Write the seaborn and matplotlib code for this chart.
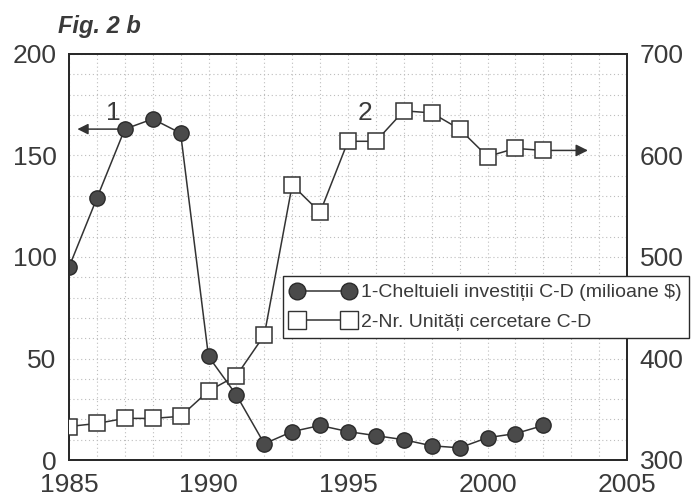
import matplotlib
matplotlib.use("Agg")
import matplotlib.pyplot as plt
from matplotlib.lines import Line2D
from matplotlib.ticker import MultipleLocator
import seaborn as sns
import pandas as pd

# Data
years = [1985, 1986, 1987, 1988, 1989, 1990, 1991, 1992, 1993,
         1994, 1995, 1996, 1997, 1998, 1999, 2000, 2001, 2002]
cheltuieli = [95, 129, 163, 168, 161, 51, 32, 8, 14,
              17, 14, 12, 10, 7, 6, 11, 13, 17]
unitati = [333, 336, 341, 341, 343, 368, 383, 423, 571,
           544, 614, 614, 644, 642, 626, 599, 607, 605]
label_1 = "1-Cheltuieli investiții C-D (milioane $)"
label_2 = "2-Nr. Unități cercetare C-D"

df = pd.DataFrame({"an": years, "cheltuieli": cheltuieli, "unitati": unitati})

sns.set_theme(style="white")
plt.rcParams["font.family"] = ["Liberation Sans", "DejaVu Sans"]

ink = "#333333"
fill = "#4a4a4a"
txt = "#3a3a3a"

fig = plt.figure(figsize=(6.91, 4.95), dpi=100)
ax = fig.add_axes([69 / 691, 1 - 460 / 495, (627 - 69) / 691, (460 - 54) / 495])
ax2 = ax.twinx()

sns.lineplot(data=df, x="an", y="cheltuieli", ax=ax, color=ink, lw=1.1,
             marker="o", markersize=11, markerfacecolor=fill,
             markeredgecolor="#2a2a2a", markeredgewidth=1.0, zorder=3)
sns.lineplot(data=df, x="an", y="unitati", ax=ax2, color=ink, lw=1.1,
             marker="s", markersize=12, markerfacecolor="white",
             markeredgecolor=ink, markeredgewidth=1.1, zorder=3)

ax.set_xlim(1985, 2005)
ax.set_ylim(0, 200)
ax2.set_ylim(300, 700)
ax.xaxis.set_major_locator(MultipleLocator(5))
ax.xaxis.set_minor_locator(MultipleLocator(1))
ax.yaxis.set_major_locator(MultipleLocator(50))
ax.yaxis.set_minor_locator(MultipleLocator(10))
ax2.yaxis.set_major_locator(MultipleLocator(100))

ax.grid(True, which="both", color="#bdbdbd", lw=0.8, ls=(0, (1, 2.5)))
ax2.grid(False)
ax.set_xlabel("")
ax.set_ylabel("")
ax2.set_ylabel("")

ax.tick_params(axis="both", which="both", length=0, labelsize=19,
               labelcolor=txt)
ax.tick_params(axis="y", pad=9)
ax.tick_params(axis="x", pad=9)
ax2.tick_params(axis="y", length=0, labelsize=19, pad=9, labelcolor=txt)

for a in (ax, ax2):
    for s in a.spines.values():
        s.set_color("#2a2a2a")
        s.set_linewidth(1.4)

# Series labels with arrows pointing to their axes
ax.annotate("", xy=(1985.3, cheltuieli[2]), xytext=(years[2], cheltuieli[2]),
            arrowprops=dict(arrowstyle="-|>", color=ink, lw=1.1,
                            mutation_scale=16, shrinkA=0, shrinkB=0),
            zorder=2)
ax2.annotate("", xy=(2003.6, unitati[-1]), xytext=(years[-1], unitati[-1]),
             arrowprops=dict(arrowstyle="-|>", color=ink, lw=1.1,
                             mutation_scale=18, shrinkA=0, shrinkB=0),
             zorder=2)
ax.text(1986.6, 171, "1", fontsize=19, color=txt, ha="center", va="center")
ax.text(1995.6, 171, "2", fontsize=19, color=txt, ha="center", va="center")

fig.text(58 / 691, 1 - 26 / 495, "Fig. 2 b", fontsize=17, fontweight="bold",
         fontstyle="italic", color=txt, va="center", ha="left")

handles = [
    Line2D([], [], color=ink, lw=1.1, marker="o", markersize=12,
           markerfacecolor=fill, markeredgecolor="#2a2a2a"),
    Line2D([], [], color=ink, lw=1.1, marker="s", markersize=13,
           markerfacecolor="white", markeredgecolor=ink),
]
leg = fig.legend(handles, [label_1, label_2], loc="upper left",
                 bbox_to_anchor=(283 / 691, 1 - 276 / 495), numpoints=2,
                 fontsize=14, handlelength=3.3, handletextpad=0.3,
                 borderpad=0.4, labelspacing=0.6, borderaxespad=0,
                 frameon=True, fancybox=False, framealpha=1,
                 edgecolor="#2a2a2a")
leg.get_frame().set_linewidth(1.0)
for t in leg.get_texts():
    t.set_color(txt)

fig.savefig("out.png", dpi=100, facecolor="white")
